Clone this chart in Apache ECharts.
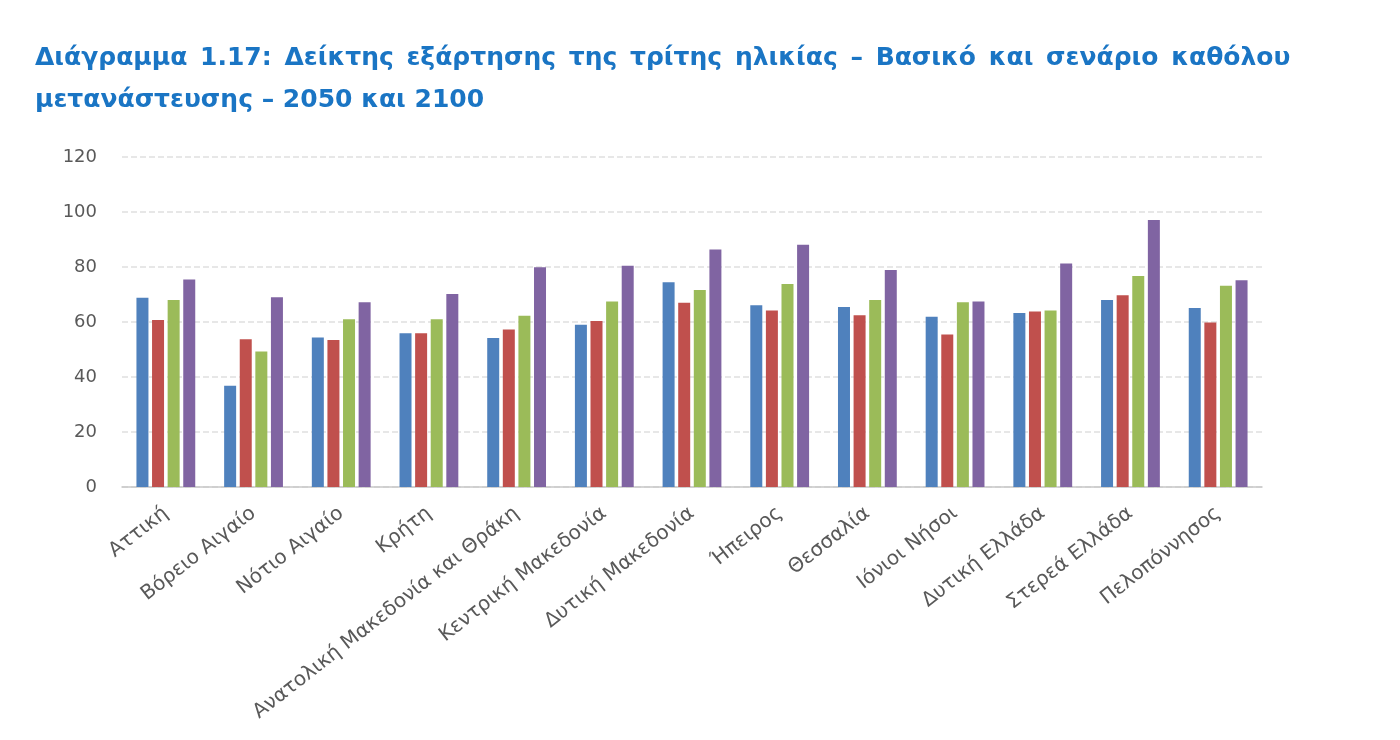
<!DOCTYPE html>
<html>
<head>
<meta charset="utf-8">
<script src="https://cdn.jsdelivr.net/npm/echarts@6/dist/echarts.min.js"></script>
<style>
  html, body { margin: 0; padding: 0; background: #fff; }
  #chart { width: 1400px; height: 740px; }
</style>
</head>
<body>
<div id="chart"></div>
<script>
var regions = ['Αττική', 'Βόρειο Αιγαίο', 'Νότιο Αιγαίο', 'Κρήτη', 'Ανατολική Μακεδονία και Θράκη',
    'Κεντρική Μακεδονία', 'Δυτική Μακεδονία', 'Ήπειρος', 'Θεσσαλία', 'Ιόνιοι Νήσοι',
    'Δυτική Ελλάδα', 'Στερεά Ελλάδα', 'Πελοπόννησος'];
var serBlue = [68.8, 36.8, 54.4, 55.9, 54.2, 59.0, 74.5, 66.1, 65.5, 61.9, 63.3, 68.0, 65.1];
var serRed = [60.7, 53.7, 53.5, 55.9, 57.3, 60.4, 67.0, 64.2, 62.5, 55.5, 63.8, 69.7, 59.8];
var serGreen = [68.0, 49.3, 61.0, 61.0, 62.3, 67.5, 71.6, 73.8, 68.0, 67.2, 64.2, 76.7, 73.2];
var serPurple = [75.5, 69.0, 67.2, 70.2, 79.9, 80.5, 86.4, 88.1, 78.9, 67.5, 81.3, 97.1, 75.2];
var colors = ['#4F81BD', '#C0504D', '#9BBB59', '#8064A2'];

var titleLine1 = 'Διάγραμμα 1.17: Δείκτης εξάρτησης της τρίτης ηλικίας – Βασικό και σενάριο καθόλου';
var titleLine2 = 'μετανάστευσης – 2050 και 2100';

var myChart = echarts.init(document.getElementById('chart'));

function bar(data, i) {
    return {
        type: 'bar',
        data: data,
        barWidth: 12,
        barGap: '30%',
        itemStyle: { color: colors[i] }
    };
}

// first title line is justified in the original, so widen its spaces a bit
var justified = titleLine1.split(' ').map(function (w) { return '{t|' + w + '}'; }).join('{sp| }');

myChart.setOption({
    animation: false,
    title: {
        text: justified + '\n{t|' + titleLine2 + '}',
        left: 30,
        top: 32,
        textStyle: {
            rich: {
                t: {
                    color: '#1a75c4',
                    fontFamily: 'DejaVu Sans',
                    fontWeight: 'bold',
                    fontSize: 25,
                    lineHeight: 42
                },
                sp: {
                    fontFamily: 'DejaVu Sans',
                    fontSize: 25,
                    lineHeight: 42,
                    width: 12.7
                }
            }
        }
    },
    grid: { left: 122, right: 138, top: 157, bottom: 253, containLabel: false, outerBoundsMode: 'none' },
    xAxis: {
        type: 'category',
        data: regions,
        axisLine: { lineStyle: { color: '#c8c8c8', width: 1.5 } },
        axisTick: { show: false },
        axisLabel: {
            rotate: 38,
            interval: 0,
            margin: 24,
            color: '#595959',
            fontFamily: 'DejaVu Sans',
            fontSize: 20
        }
    },
    yAxis: {
        type: 'value',
        min: 0,
        max: 120,
        interval: 20,
        axisLine: { show: false },
        axisTick: { show: false },
        axisLabel: {
            margin: 25,
            color: '#595959',
            fontFamily: 'DejaVu Sans',
            fontSize: 18
        },
        splitLine: { lineStyle: { color: '#e0e0e0', type: 'dashed', width: 1.5 } }
    },
    series: [bar(serBlue, 0), bar(serRed, 1), bar(serGreen, 2), bar(serPurple, 3)]
});
</script>
</body>
</html>
